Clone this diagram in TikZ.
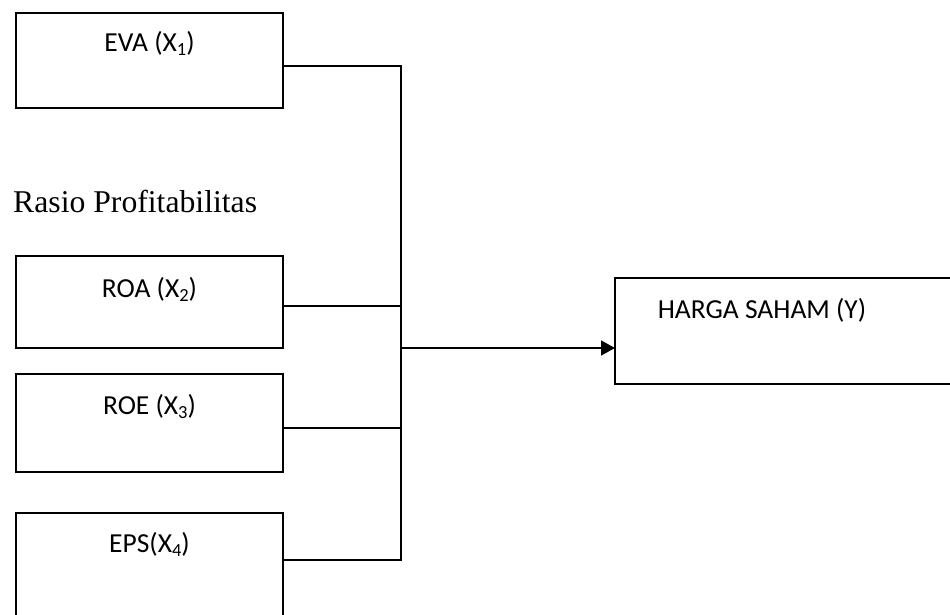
\documentclass[tikz,border=0pt]{standalone}
\usepackage{fontspec}
\setmainfont{Carlito}
\newfontfamily\timesfont{Liberation Serif}
\usetikzlibrary{arrows.meta}
\newcommand{\wsub}[1]{\raisebox{-4pt}{\fontsize{18.5}{20}\selectfont #1}}
\tikzset{
  varbox/.style={draw, line width=1.2pt, rectangle, anchor=north west, inner sep=0pt, outer sep=0pt},
  varlabel/.style={font=\fontsize{27.5}{30}\selectfont, anchor=base, inner sep=0pt},
  link/.style={line width=1.2pt},
}
\begin{document}
\begin{tikzpicture}[x=1pt, y=-1pt]
  \clip (0,0) rectangle (950,615);
  \fill[white] (0,0) rectangle (950,615);
  % independent variables
  \node[varbox, minimum width=267pt, minimum height=95pt] (eva) at (16,13) {};
  \node[varbox, minimum width=267pt, minimum height=92pt] (roa) at (16,256) {};
  \node[varbox, minimum width=267pt, minimum height=98pt] (roe) at (16,374) {};
  \node[varbox, minimum width=267pt, minimum height=120pt] (eps) at (16,513) {};
  % dependent variable
  \node[varbox, minimum width=360pt, minimum height=106pt] (harga) at (615,278) {};
  \node[varlabel] (evat) at ([yshift=-39pt]eva.north) {EVA (X\wsub{1})};
  \node[varlabel] (roat) at ([yshift=-41pt]roa.north) {ROA (X\wsub{2})};
  \node[varlabel] (roet) at ([yshift=-40pt]roe.north) {ROE (X\wsub{3})};
  \node[varlabel] (epst) at ([yshift=-39pt]eps.north) {EPS(X\wsub{4})};
  \node[varlabel] (hargat) at (762,318) {HARGA SAHAM (Y)};
  \node[font=\timesfont\fontsize{31.7}{36}\selectfont, anchor=base west, inner sep=0pt] (rasio) at (13,212) {Rasio Profitabilitas};
  % bus lines
  \coordinate (bustop) at (401,66);
  \coordinate (roaj) at (401,306);
  \coordinate (junc) at (401,348);
  \coordinate (roej) at (401,428);
  \coordinate (busbot) at (401,560);
  \draw[link] (bustop -| eva.east) -- (bustop) -- (busbot) -- (busbot -| eps.east);
  \draw[link] (roaj -| roa.east) -- (roaj);
  \draw[link] (roej -| roe.east) -- (roej);
  \draw[line width=1.4pt, -{Triangle[length=14pt, width=15pt]}] (junc) -- (junc -| harga.west);
\end{tikzpicture}
\end{document}
